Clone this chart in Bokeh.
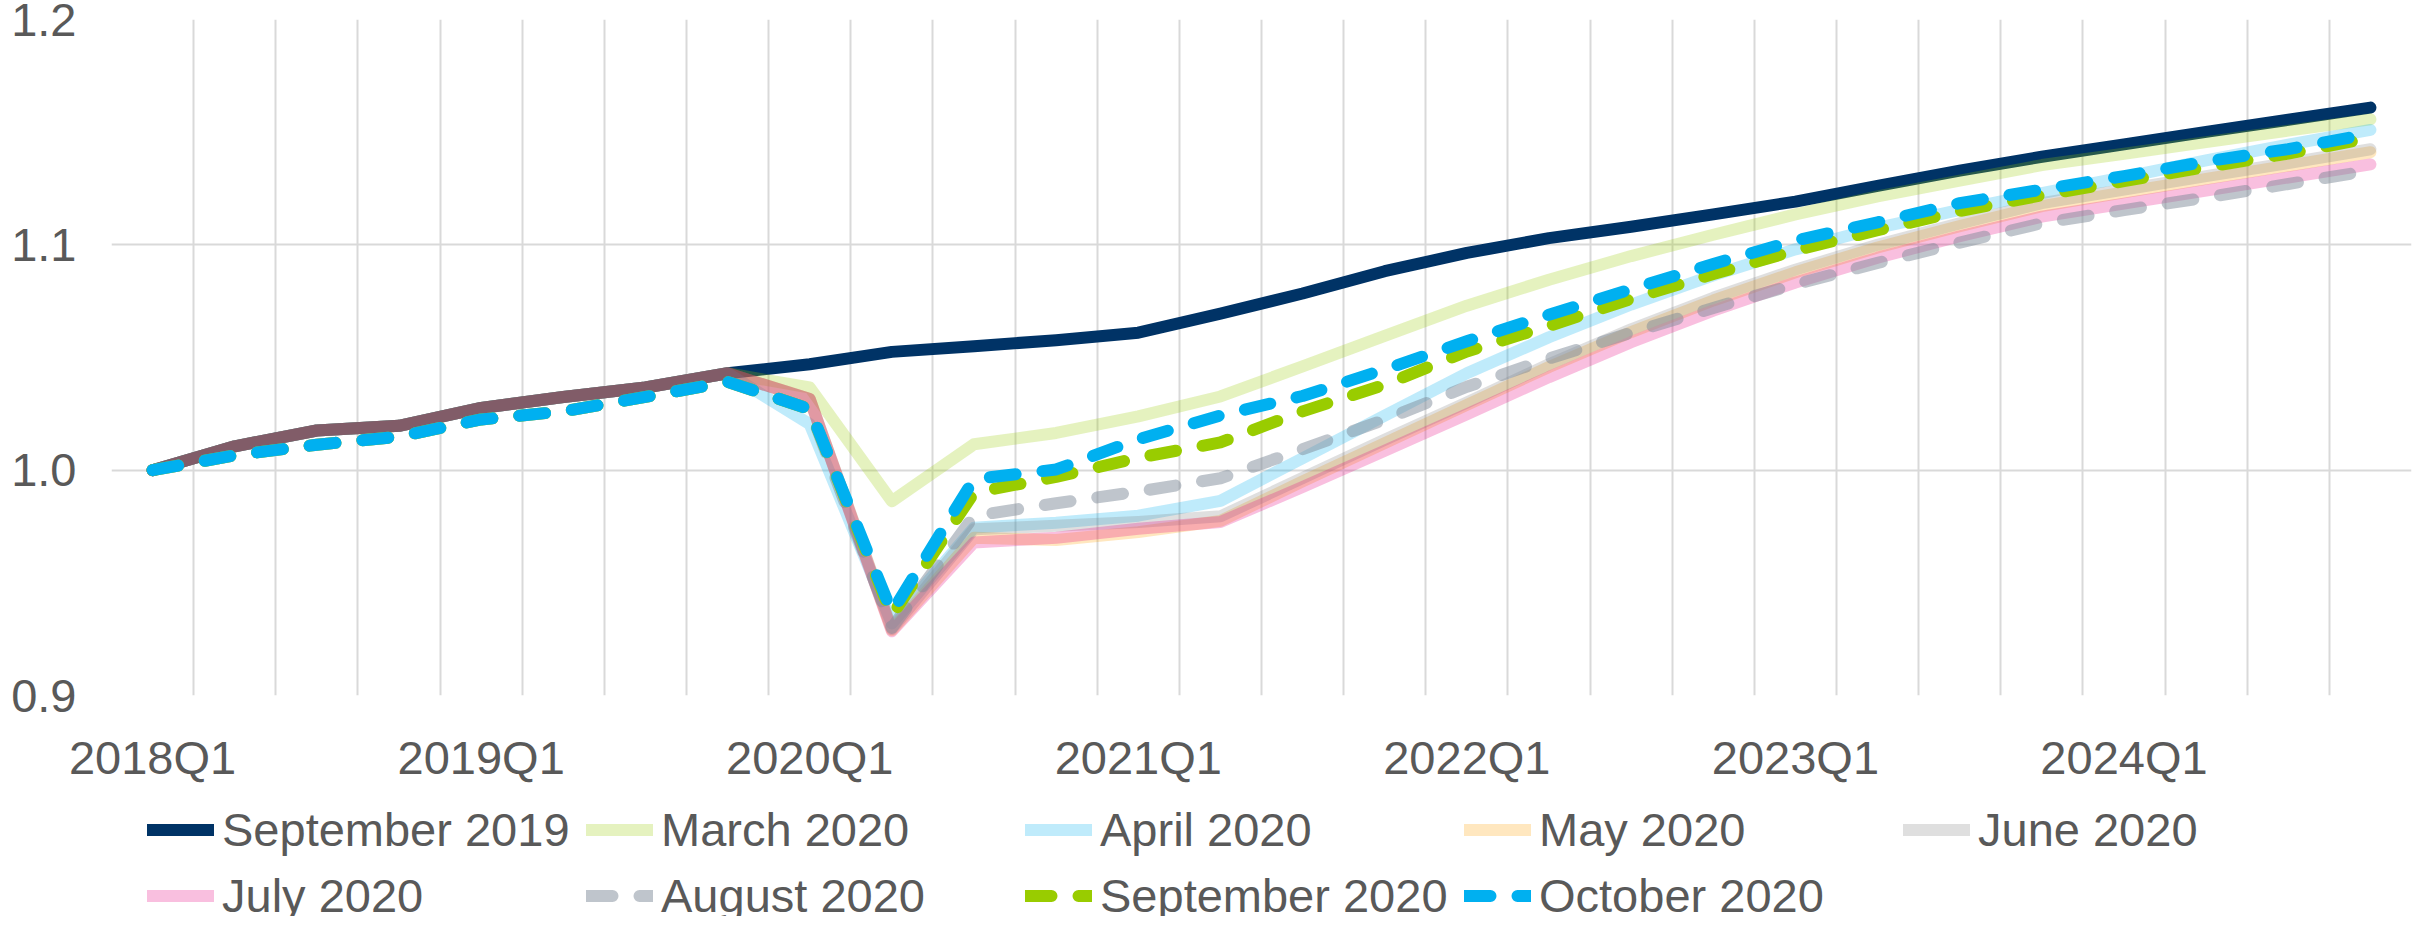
from bokeh.plotting import figure
from bokeh.models import Range1d, FixedTicker, Legend, LegendItem, PrintfTickFormatter
from bokeh.layouts import column
from bokeh.embed import file_html
from bokeh.resources import INLINE

quarters = ["2018Q1", "2018Q2", "2018Q3", "2018Q4",
            "2019Q1", "2019Q2", "2019Q3", "2019Q4",
            "2020Q1", "2020Q2", "2020Q3", "2020Q4",
            "2021Q1", "2021Q2", "2021Q3", "2021Q4",
            "2022Q1", "2022Q2", "2022Q3", "2022Q4",
            "2023Q1", "2023Q2", "2023Q3", "2023Q4",
            "2024Q1", "2024Q2", "2024Q3", "2024Q4"]

y_ticks = [0.9, 1.0, 1.1, 1.2]

sep2019 = [1.000, 1.0106, 1.0176, 1.0197, 1.0276, 1.0325, 1.0367, 1.0430,
           1.0470, 1.0525, 1.0550, 1.0577, 1.0610, 1.0695, 1.0784, 1.0883,
           1.0964, 1.1030, 1.1080, 1.1135, 1.1192, 1.1262, 1.1329, 1.1391,
           1.1446, 1.1501, 1.1555, 1.1609]
mar2020 = [1.000, 1.0106, 1.0176, 1.0197, 1.0276, 1.0325, 1.0367, 1.0430,
           1.0367, 0.9862, 1.0115, 1.0165, 1.0239, 1.0327, 1.0461, 1.0596,
           1.0730, 1.0845, 1.0950, 1.1045, 1.1135, 1.1215, 1.1285, 1.1354,
           1.1404, 1.1456, 1.1507, 1.1557]
apr2020 = [1.000, 1.0106, 1.0176, 1.0197, 1.0276, 1.0325, 1.0367, 1.0430,
           1.0204, 0.9320, 0.9745, 0.9767, 0.9798, 0.9864, 1.0053, 1.0242,
           1.0430, 1.0590, 1.0735, 1.0865, 1.0980, 1.1075, 1.1155, 1.1230,
           1.1300, 1.1375, 1.1445, 1.1510]
may2020 = [1.000, 1.0106, 1.0176, 1.0197, 1.0276, 1.0325, 1.0367, 1.0430,
           1.0316, 0.9290, 0.9700, 0.9690, 0.9725, 0.9775, 0.9950, 1.0120,
           1.0290, 1.0458, 1.0613, 1.0753, 1.0878, 1.0988, 1.1083, 1.1172,
           1.1233, 1.1293, 1.1351, 1.1411]
jun2020 = [1.000, 1.0106, 1.0176, 1.0197, 1.0276, 1.0325, 1.0367, 1.0430,
           1.0316, 0.9295, 0.9738, 0.9753, 0.9770, 0.9795, 0.9965, 1.0135,
           1.0300, 1.0470, 1.0625, 1.0765, 1.0890, 1.1000, 1.1095, 1.1185,
           1.1245, 1.1305, 1.1363, 1.1424]
jul2020 = [1.000, 1.0106, 1.0176, 1.0197, 1.0276, 1.0325, 1.0367, 1.0430,
           1.0316, 0.9285, 0.9679, 0.9700, 0.9740, 0.9770, 0.9925, 1.0086,
           1.0248, 1.0413, 1.0568, 1.0708, 1.0833, 1.0943, 1.1038, 1.1125,
           1.1183, 1.1241, 1.1299, 1.1357]
aug2020 = [1.000, 1.0066, 1.0113, 1.0149, 1.0225, 1.0261, 1.0325, 1.0392,
           1.0271, 0.9300, 0.9797, 0.9853, 0.9905, 0.9964, 1.0093, 1.0224,
           1.0370, 1.0495, 1.0610, 1.0720, 1.0825, 1.0920, 1.1010, 1.1096,
           1.1154, 1.1210, 1.1270, 1.1330]
sep2020 = [1.000, 1.0066, 1.0113, 1.0149, 1.0225, 1.0261, 1.0325, 1.0392,
           1.0271, 0.9355, 0.9900, 0.9970, 1.0055, 1.0123, 1.0261, 1.0379,
           1.0527, 1.0640, 1.0760, 1.0870, 1.0975, 1.1065, 1.1150, 1.1220,
           1.1283, 1.1345, 1.1405, 1.1475]
oct2020 = [1.000, 1.0066, 1.0113, 1.0149, 1.0225, 1.0261, 1.0325, 1.0392,
           1.0271, 0.9370, 0.9960, 1.0003, 1.0137, 1.0243, 1.0329, 1.0447,
           1.0572, 1.0690, 1.0803, 1.0915, 1.1019, 1.1100, 1.1185, 1.1245,
           1.1305, 1.1370, 1.1425, 1.1493]

series = [
    ("September 2019", sep2019, "#003366", 1.0, "solid"),
    ("March 2020", mar2020, "#99CC00", 0.25, "solid"),
    ("April 2020", apr2020, "#00B0F0", 0.25, "solid"),
    ("May 2020", may2020, "#FFA000", 0.25, "solid"),
    ("June 2020", jun2020, "#808080", 0.25, "solid"),
    ("July 2020", jul2020, "#E6007E", 0.25, "solid"),
    ("August 2020", aug2020, "#7F8C99", 0.5, "26 27"),
    ("September 2020", sep2020, "#99CC00", 1.0, "26 27"),
    ("October 2020", oct2020, "#00B0F0", 1.0, "26 27"),
]

FONT = "Liberation Sans"
TXT = "#595959"
GRID = "#D9D9D9"
W = 2416
H_MAIN = 791
H_LEG = 125

x = list(range(len(quarters)))

p = figure(width=W, height=H_MAIN, output_backend="svg", toolbar_location=None,
           x_range=Range1d(-0.5, len(quarters) - 0.5), y_range=Range1d(y_ticks[0], y_ticks[-1]),
           min_border_left=111, min_border_right=5, min_border_top=19, min_border_bottom=96)
p.background_fill_color = "white"
p.border_fill_color = "white"
p.outline_line_color = None

for name, vals, color, alpha, dash in series:
    p.line(x, vals, line_color=color, line_alpha=alpha, line_width=12,
           line_dash=dash, line_cap="round", line_join="round")

# grids at category boundaries
p.xgrid.ticker = FixedTicker(ticks=[i - 0.5 for i in range(len(quarters) + 1)])
p.ygrid.ticker = FixedTicker(ticks=y_ticks)
for g in (p.xgrid, p.ygrid):
    g.grid_line_color = GRID
    g.grid_line_width = 2

q1_idx = [i for i, q in enumerate(quarters) if q.endswith("Q1")]
p.xaxis.ticker = FixedTicker(ticks=q1_idx)
p.xaxis.major_label_overrides = {i: quarters[i] for i in q1_idx}
p.yaxis.ticker = FixedTicker(ticks=y_ticks)
p.yaxis.formatter = PrintfTickFormatter(format="%.1f")

for ax in (p.xaxis[0], p.yaxis[0]):
    ax.axis_line_color = None
    ax.major_tick_line_color = None
    ax.minor_tick_line_color = None
    ax.major_tick_in = 0
    ax.major_tick_out = 0
    ax.major_label_text_font = FONT
    ax.major_label_text_font_size = "47px"
    ax.major_label_text_color = TXT
p.xaxis.major_label_standoff = 35
p.yaxis.major_label_standoff = 35

# legend strip; each proxy holds one point of its series, outside the strip's view,
# and carries the same line style as the series drawn above
pl = figure(width=W, height=H_LEG, output_backend="svg", toolbar_location=None,
            x_axis_location=None, y_axis_location=None, min_border=0,
            x_range=Range1d(0, 1), y_range=Range1d(0, 0.5))
pl.outline_line_color = None
pl.background_fill_color = "white"
pl.border_fill_color = "white"
for g in pl.grid:
    g.visible = False

items = []
for name, vals, color, alpha, dash in series:
    r = pl.line(x=[x[0]], y=[vals[0]], line_color=color, line_alpha=alpha, line_width=12,
                line_dash=dash, line_cap="round", line_join="round")
    items.append(LegendItem(label=name, renderers=[r]))

legend_style = dict(orientation="horizontal", glyph_width=67, glyph_height=69,
                    label_height=69, label_width=364, label_standoff=8, spacing=0,
                    padding=0, margin=0, label_text_font=FONT, label_text_font_size="47px",
                    label_text_color=TXT, background_fill_alpha=0, border_line_color=None)
leg1 = Legend(items=items[:5], location=(36, 52), **legend_style)
leg2 = Legend(items=items[5:], location=(36, -14), **legend_style)
pl.add_layout(leg1, "center")
pl.add_layout(leg2, "center")

open("out.html", "w").write(file_html(column(p, pl, spacing=0), INLINE))
